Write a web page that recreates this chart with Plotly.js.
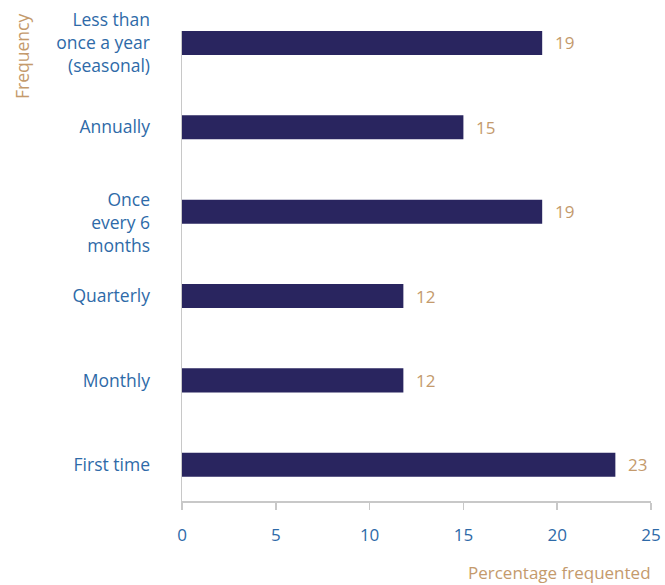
<!DOCTYPE html>
<html><head><meta charset="utf-8">
<script src="https://cdn.plot.ly/plotly-3.0.1.min.js"></script>
<style>html,body{margin:0;padding:0;background:#fff}</style>
</head><body><div id="chart" style="width:665px;height:585px"></div>
<script>
const categories = ["First time", "Monthly", "Quarterly", "Once every 6 months", "Annually", "Less than once a year (seasonal)"];
const tickLabels = ["First time", "Monthly", "Quarterly", "<br>Once<br>every 6<br>months", "Annually", "Less than<br>once a year<br>(seasonal)"];
const values = [23.1, 11.8, 11.8, 19.2, 15.0, 19.2];
const valueLabels = ["23", "12", "12", "19", "15", "19"];
const xTicks = [0, 5, 10, 15, 20, 25];

const FONT = "'Open Sans', Lato, sans-serif";
const BLUE = "#2e6aa8";
const TAN = "#c49a6c";
const FS = 17.5;

const trace = {
  type: "bar", orientation: "h",
  y: categories, x: values,
  marker: {color: "#29255f"},
  width: 0.285,
  hoverinfo: "none"
};

const annotations = values.map((v, i) => ({
  x: v, y: categories[i], xref: "x", yref: "y",
  text: valueLabels[i], showarrow: false,
  xanchor: "left", yanchor: "middle", xshift: 11,
  font: {family: FONT, size: 17, color: TAN}
}));
annotations.push({
  xref: "paper", yref: "paper", x: -0.341, y: 0.945,
  xanchor: "center", yanchor: "middle",
  text: "Frequency", textangle: -90, showarrow: false,
  font: {family: FONT, size: 17.5, color: TAN}
});
annotations.push({
  xref: "paper", yref: "paper", x: 1.004, y: -0.153,
  xanchor: "right", yanchor: "middle",
  text: "Percentage frequented", showarrow: false,
  font: {family: FONT, size: 17, color: TAN}
});

const layout = {
  width: 665, height: 585,
  margin: {l: 182, r: 14, t: 31, b: 84},
  paper_bgcolor: "#fff", plot_bgcolor: "#fff",
  showlegend: false,
  font: {family: FONT, size: FS, color: BLUE},
  xaxis: {
    range: [0, 25], tickvals: xTicks, ticktext: xTicks.map(String),
    showgrid: false, zeroline: false,
    showline: true, linecolor: "#c8c8c8", linewidth: 1.5,
    ticks: "outside", ticklen: 7, tickcolor: "#c8c8c8", tickwidth: 1.5,
    ticklabelstandoff: 11,
    tickfont: {family: FONT, size: 17, color: BLUE}
  },
  yaxis: {
    type: "category", range: [-0.43, 5.142],
    tickvals: categories, ticktext: tickLabels,
    showgrid: false, zeroline: false,
    showline: true, linecolor: "#c8c8c8", linewidth: 1.5,
    ticks: "", ticklabelstandoff: 27,
    tickfont: {family: FONT, size: FS, color: BLUE}
  },
  annotations: annotations
};

Plotly.newPlot("chart", [trace], layout, {displayModeBar: false, staticPlot: true});
</script></body></html>
